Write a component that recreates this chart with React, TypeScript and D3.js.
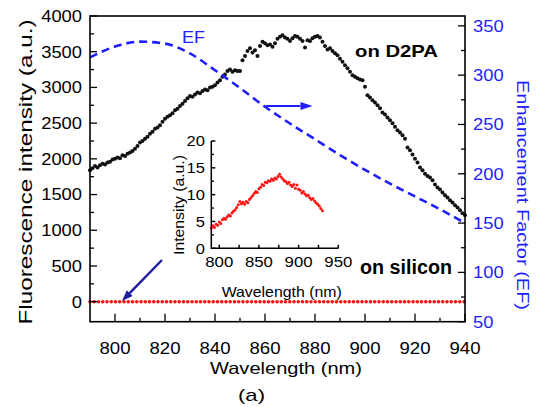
import React, { useEffect, useRef } from 'react';
import * as d3 from 'd3';

// on D2PA, one point per nm from 790 to 940
const d2paStart = 790;
const d2paValues = [
  1840, 1870, 1900, 1880, 1910, 1930, 1920, 1950, 1960, 1990,
  2000, 2020, 2010, 2050, 2040, 2070, 2090, 2110, 2140, 2180,
  2230, 2250, 2280, 2310, 2350, 2380, 2420, 2440, 2470, 2520,
  2560, 2590, 2610, 2640, 2680, 2700, 2740, 2770, 2810, 2850,
  2880, 2870, 2900, 2930, 2920, 2950, 2970, 2960, 3000, 3010,
  3030, 3070, 3100, 3150, 3180, 3230, 3250, 3220, 3240, 3230,
  3230, 3380, 3440, 3510, 3550, 3490, 3520, 3440, 3580, 3640,
  3620, 3590, 3600, 3570, 3620, 3680, 3710, 3730, 3700, 3680,
  3650, 3690, 3720, 3710, 3680, 3650, 3560, 3660, 3650, 3690,
  3710, 3720, 3700, 3640, 3580, 3530, 3550, 3510, 3480, 3450,
  3400, 3360, 3310, 3270, 3220, 3170, 3150, 3130, 3110, 3100,
  3010, 2890, 2860, 2820, 2790, 2750, 2710, 2650, 2620, 2580,
  2540, 2500, 2450, 2400, 2370, 2330, 2280, 2160, 2120, 2060,
  2000, 1950, 1880, 1840, 1790, 1760, 1740, 1700, 1640, 1600,
  1570, 1530, 1490, 1460, 1420, 1390, 1350, 1320, 1280, 1240,
  1210,
];

// enhancement factor (right axis)
const efWavelengths = [790, 800, 810, 820, 830, 840, 850, 860, 870, 880, 890, 900, 910, 920, 930, 940];
const efValues = [318, 329, 334, 332, 322, 305, 287, 268, 251, 235, 219, 204, 190, 177, 164, 150];

// on silicon (inset), one point per 2 nm from 790 to 930
const siliconStart = 790;
const siliconStep = 2;
const siliconValues = [
  3.8, 4.2, 3.9, 4.5, 4.3, 4.9, 4.6, 5.3, 5.6, 5.4,
  5.9, 6.2, 6.0, 6.6, 6.9, 7.2, 7.6, 8.1, 8.7, 8.3,
  8.6, 8.2, 8.7, 8.5, 9.1, 9.4, 9.8, 10.2, 10.6, 10.4,
  11.1, 11.4, 11.9, 11.7, 12.3, 12.2, 12.6, 12.5, 12.9, 12.7,
  13.1, 12.9, 13.4, 13.8, 13.3, 12.9, 12.6, 12.4, 12.1, 12.3,
  11.8, 11.5, 11.9, 11.2, 11.8, 11.0, 10.8, 10.3, 10.6, 10.1,
  9.8, 9.9, 9.4, 9.1, 9.3, 8.8, 8.5, 8.2, 7.9, 7.4, 7.0,
];
// on silicon in the main plot sits at ~0 across the whole range
const siliconMainLevel = 0;

const leftTicks = [0, 500, 1000, 1500, 2000, 2500, 3000, 3500, 4000];
const rightTicks = [50, 100, 150, 200, 250, 300, 350];
const bottomTicks = [800, 820, 840, 860, 880, 900, 920, 940];
const insetXTicks = [800, 850, 900, 950];
const insetYTicks = [0, 5, 10, 15, 20];

const FONT = "'Liberation Sans', Arial, sans-serif";
const BLUE = '#1e1eff';

function App() {
  const ref = useRef<SVGSVGElement>(null);

  useEffect(() => {
    const svg = d3.select(ref.current);
    svg.selectAll('*').remove();

    const box = { l: 90, r: 465, t: 16, b: 321.7 };
    const x = d3.scaleLinear().domain([790, 940]).range([box.l, box.r]);
    const yL = d3.scaleLinear().domain([-280, 4000]).range([box.b, box.t]);
    const yR = d3.scaleLinear().domain([50, 360]).range([box.b, box.t]);

    const text = (g: any, px: number, py: number, s: string, size: number, len: number, anchor = 'start', color = '#000', weight = 'normal', rot = 0) =>
      g.append('text')
        .attr('transform', `translate(${px},${py}) rotate(${rot})`)
        .attr('text-anchor', anchor)
        .attr('font-family', FONT)
        .attr('font-size', size)
        .attr('font-weight', weight)
        .attr('fill', color)
        .attr('textLength', len)
        .attr('lengthAdjust', 'spacingAndGlyphs')
        .text(s);

    // red dots on silicon (main)
    const siliconGrid = d3.range(790, 940.01, 1.7);
    svg.append('g').selectAll('circle').data(siliconGrid).join('circle')
      .attr('cx', d => x(d)).attr('cy', yL(siliconMainLevel)).attr('r', 1.8).attr('fill', '#ff1010');

    // black dots on D2PA
    svg.append('g').selectAll('circle').data(d2paValues).join('circle')
      .attr('cx', (d, i) => x(d2paStart + i)).attr('cy', d => yL(d)).attr('r', 2).attr('fill', '#111');

    // EF dashed curve
    const efLine = d3.line<number>()
      .x((d, i) => x(efWavelengths[i]))
      .y(d => yR(d))
      .curve(d3.curveMonotoneX);
    svg.append('path').attr('d', efLine(efValues)).attr('fill', 'none')
      .attr('stroke', BLUE).attr('stroke-width', 2.6).attr('stroke-dasharray', '8,5');

    // frame
    svg.append('rect').attr('x', box.l).attr('y', box.t).attr('width', box.r - box.l).attr('height', box.b - box.t)
      .attr('fill', 'none').attr('stroke', '#000').attr('stroke-width', 1.6);

    const tk = svg.append('g').attr('stroke', '#000').attr('stroke-width', 1.3);
    d3.range(0, 4001, 250).forEach(v => {
      const len = v % 500 === 0 ? 7 : 4;
      tk.append('line').attr('x1', box.l).attr('x2', box.l + len).attr('y1', yL(v)).attr('y2', yL(v));
    });
    d3.range(50, 360, 25).forEach(v => {
      const len = v % 50 === 0 ? 7 : 4;
      tk.append('line').attr('x1', box.r).attr('x2', box.r - len).attr('y1', yR(v)).attr('y2', yR(v));
    });
    d3.range(800, 941, 10).forEach(v => {
      const len = v % 20 === 0 ? 8 : 4;
      tk.append('line').attr('x1', x(v)).attr('x2', x(v)).attr('y1', box.b).attr('y2', box.b - len);
    });

    leftTicks.forEach(v => text(svg, 82, yL(v) + 5.8, String(v), 16, String(v).length * 10.2, 'end'));
    rightTicks.forEach(v => text(svg, 473, yR(v) + 5.8, String(v), 16, String(v).length * 10.2, 'start', BLUE));
    bottomTicks.forEach(v => text(svg, x(v), 354.3, String(v), 16, 31, 'middle'));

    // axis titles
    text(svg, 32, 172, 'Fluorescence intensity (a.u.)', 19, 305, 'middle', '#000', 'normal', -90);
    text(svg, 517, 195, 'Enhancement Factor (EF)', 17, 230, 'middle', BLUE, 'normal', 90);
    text(svg, 286, 374, 'Wavelength (nm)', 16.5, 152, 'middle');
    text(svg, 251.5, 401, '(a)', 17, 27, 'middle');

    // annotations
    text(svg, x(896), yL(3430), 'on D2PA', 16.5, 83, 'start', '#000', 'bold');
    text(svg, x(898), yL(388), 'on silicon', 19.5, 92, 'start', '#000', 'bold');
    text(svg, x(826.8), yL(3618), 'EF', 16, 23, 'start', BLUE);

    const arrow = (x1: number, y1: number, x2: number, y2: number, color: string, w: number, hl: number, hw: number) => {
      const a = Math.atan2(y2 - y1, x2 - x1);
      const bx = x2 - hl * Math.cos(a), by = y2 - hl * Math.sin(a);
      svg.append('line').attr('x1', x1).attr('y1', y1).attr('x2', bx).attr('y2', by)
        .attr('stroke', color).attr('stroke-width', w);
      const px = Math.sin(a) * hw / 2, py = -Math.cos(a) * hw / 2;
      svg.append('path').attr('d', `M${x2},${y2}L${bx + px},${by + py}L${bx - px},${by - py}Z`).attr('fill', color);
    };
    arrow(x(860.4), yL(2740), x(879), yL(2740), BLUE, 2, 12, 8);
    arrow(x(818.8), yL(584), x(802.8), yL(10), '#1c1c9c', 2.4, 11, 8);

    // inset
    const ix = d3.scaleLinear().domain([790, 950]).range([211.3, 338.3]);
    const iy = d3.scaleLinear().domain([0, 20]).range([248.3, 141]);
    const inset = svg.append('g');
    inset.selectAll('circle').data(siliconValues).join('circle')
      .attr('cx', (d, i) => ix(siliconStart + i * siliconStep)).attr('cy', d => iy(d)).attr('r', 1.5).attr('fill', '#ff1010');
    const it = inset.append('g').attr('stroke', '#000').attr('stroke-width', 1.5);
    it.append('path').attr('fill', 'none').attr('d', `M${ix(790)},${iy(20)}V${iy(0)}H${ix(950)}`);
    d3.range(0, 20.01, 2.5).forEach(v => {
      const len = v % 5 === 0 ? 4 : 2.5;
      it.append('line').attr('x1', ix(790)).attr('x2', ix(790) + len).attr('y1', iy(v)).attr('y2', iy(v));
    });
    d3.range(800, 951, 25).forEach(v => {
      it.append('line').attr('x1', ix(v)).attr('x2', ix(v)).attr('y1', iy(0)).attr('y2', iy(0) - 3.5);
    });
    insetYTicks.forEach(v => text(inset, 205, iy(v) + 5.3, String(v), 14.5, String(v).length * 9.2, 'end'));
    insetXTicks.forEach(v => text(inset, ix(v), 267.3, String(v), 14.5, 28, 'middle'));
    text(inset, 184, 205, 'Intensity (a.u.)', 14, 100, 'middle', '#000', 'normal', -90);
    text(inset, 281.7, 297, 'Wavelength (nm)', 15, 120, 'middle');
  }, []);

  return (
    <div style={{ position: 'absolute', left: 0, top: 0 }}>
      <svg ref={ref} width={541} height={407} style={{ display: 'block', background: '#fff' }} />
    </div>
  );
}

export default App;
